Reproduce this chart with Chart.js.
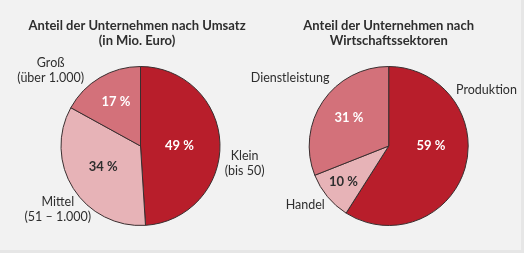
<!DOCTYPE html>
<html>
<head>
<meta charset="utf-8">
<script src="https://cdn.jsdelivr.net/npm/chart.js@4.4.1/dist/chart.umd.min.js"></script>
<style>
  html, body { margin: 0; padding: 0; background: #e6e6e6; }
  #panel { position: absolute; left: 0; top: 0; width: 521px; height: 250px; background: #f2f2f2; }
  canvas { position: absolute; top: 0; left: 0; }
</style>
</head>
<body>
<div id="panel">
  <canvas id="umsatz" width="524" height="253"></canvas>
  <canvas id="sektor" width="524" height="253"></canvas>
</div>
<script>
// Daten
const umsatzLabels = ['Klein', 'Mittel', 'Groß'];
const umsatzSubLabels = ['(bis 50)', '(51 – 1.000)', '(über 1.000)'];
const umsatzValues = [49, 34, 17];

const sektorLabels = ['Produktion', 'Handel', 'Dienstleistung'];
const sektorSubLabels = ['', '', ''];
const sektorValues = [59, 10, 31];

const DARK = '#b81e2b';
const MID = '#d3717a';
const LIGHT = '#e7b3b7';
const TEXT = '#2e2e2e';
const FONT = 'Lato, "Noto Sans", sans-serif';

// Titel + Beschriftungen in/neben den Segmenten (Offsets in Radius-Einheiten)
const sliceLabels = {
    id: 'sliceLabels',
    afterDatasetsDraw(chart, args, opts) {
        const ctx = chart.ctx;
        const meta = chart.getDatasetMeta(0);
        const values = chart.data.datasets[0].data;
        ctx.save();
        ctx.textAlign = 'center';
        ctx.textBaseline = 'middle';

        const c = meta.data[0].getProps(['x', 'y'], true);
        ctx.font = 'bold 13px ' + FONT;
        ctx.fillStyle = TEXT;
        opts.title.forEach((line, k) => ctx.fillText(line, c.x + opts.titleShift, 25.5 + k * 15));

        meta.data.forEach((arc, i) => {
            const { x, y, outerRadius } = arc.getProps(['x', 'y', 'outerRadius'], true);
            // Prozentwert
            const inner = opts.inner[i];
            ctx.font = 'bold 13px ' + FONT;
            ctx.fillStyle = opts.valueColors[i];
            ctx.fillText(values[i] + ' %', x + inner[0] * outerRadius, y + inner[1] * outerRadius);
            // Kategorie
            const outer = opts.outer[i];
            const lines = [chart.data.labels[i], opts.sub[i]].filter(s => s);
            ctx.font = '12.5px ' + FONT;
            ctx.fillStyle = TEXT;
            const cx = x + outer[0] * outerRadius;
            const cy = y + outer[1] * outerRadius - (lines.length - 1) * 7.5;
            lines.forEach((line, k) => ctx.fillText(line, cx, cy + k * 15));
        });
        ctx.restore();
    }
};

function makePie(id, labels, values, colors, padL, padR, labelOpts) {
    return new Chart(document.getElementById(id), {
        type: 'pie',
        data: {
            labels: labels,
            datasets: [{
                data: values,
                backgroundColor: colors,
                borderColor: '#3a2e2f',
                borderWidth: 1
            }]
        },
        options: {
            responsive: false,
            animation: false,
            layout: { padding: { left: padL, right: padR, top: 66, bottom: 27 } },
            plugins: {
                legend: { display: false },
                tooltip: { enabled: false },
                title: { display: false },
                sliceLabels: labelOpts
            }
        },
        plugins: [sliceLabels]
    });
}

makePie('umsatz', umsatzLabels, umsatzValues, [DARK, LIGHT, MID], 60.5, 303.5, {
    title: ['Anteil der Unternehmen nach Umsatz', '(in Mio. Euro)'],
    titleShift: -3.5,
    sub: umsatzSubLabels,
    valueColors: ['#ffffff', TEXT, '#ffffff'],
    inner: [[0.49, 0], [-0.47, 0.26], [-0.31, -0.56]],
    outer: [[1.31, 0.225], [-1.04, 0.8], [-1.13, -0.95]]
});

makePie('sektor', sektorLabels, sektorValues, [DARK, LIGHT, MID], 308.7, 55.3, {
    title: ['Anteil der Unternehmen nach', 'Wirtschaftssektoren'],
    titleShift: 0,
    sub: sektorSubLabels,
    valueColors: ['#ffffff', TEXT, '#ffffff'],
    inner: [[0.53, 0], [-0.57, 0.45], [-0.5, -0.35]],
    outer: [[1.23, -0.7], [-1.05, 0.74], [-1.24, -0.855]]
});
</script>
</body>
</html>
